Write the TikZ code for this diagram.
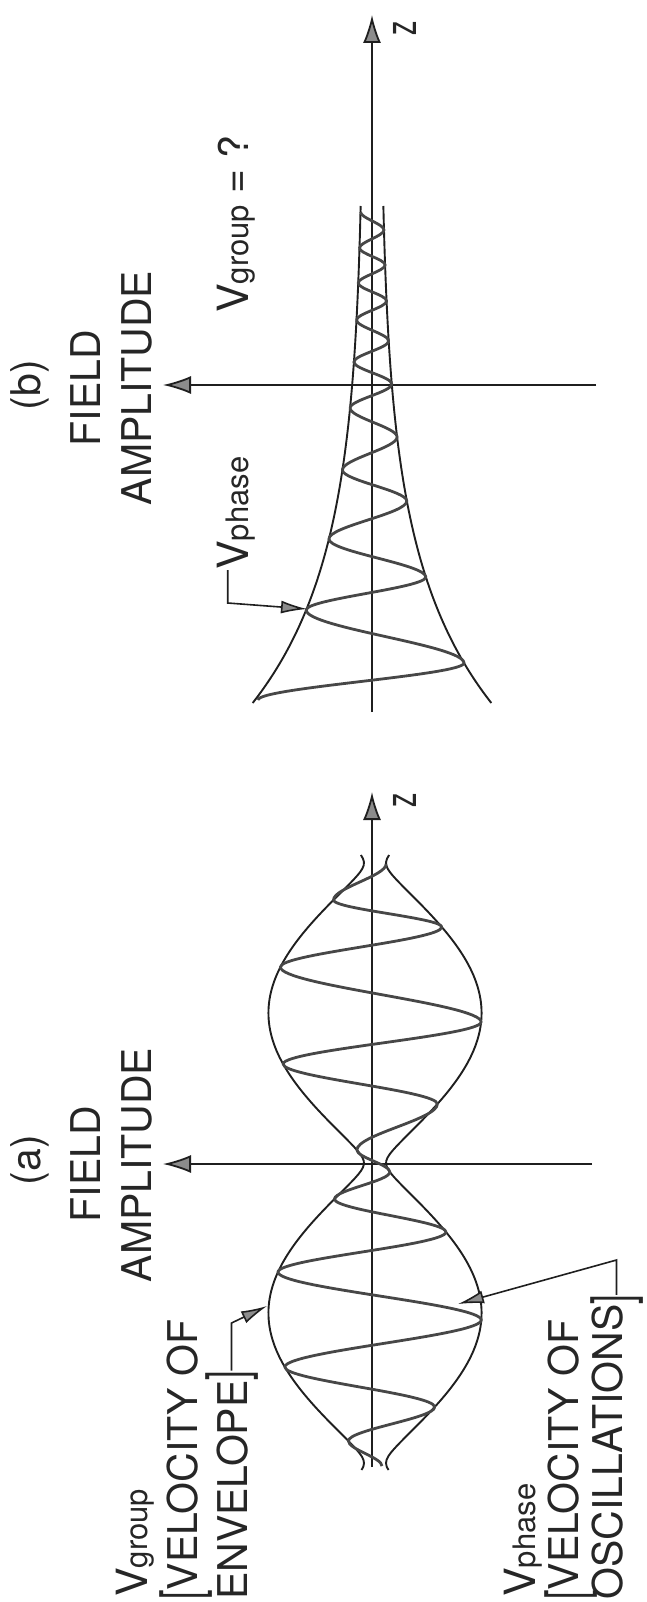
\documentclass[tikz,border=0pt]{standalone}
\usepackage{fontspec}
\setmainfont{TeX Gyre Heros}
\usetikzlibrary{arrows.meta}
\newcommand\myVV{{\fontsize{43}{43}\selectfont V}}
\newcommand\mysubt[1]{{\fontsize{31}{31}\selectfont #1}}
\newcommand\mybrk[2]{\raisebox{#1}{\scalebox{0.62}[1]{\fontsize{56}{56}\selectfont #2}}}
\begin{document}
\begin{tikzpicture}[x=1pt,y=-1pt,
  axis/.style={draw=black!88, line width=1.8pt, -{Latex[length=28pt,width=18pt,fill=black!45]}},
  env/.style={draw=black!88, line width=1.9pt},
  wave/.style={draw=black!72, line width=2.8pt, line join=round},
  leader/.style={draw=black!88, line width=1.6pt, -{Latex[length=26pt,width=13pt,fill=black!45]}},
  txt/.style={rotate=90, inner sep=0pt, text=black!85, font=\fontsize{41}{41}\selectfont},
  lbl/.style={txt, anchor=base west},
  ttl/.style={txt, anchor=base},
]
\useasboundingbox (0,0) rectangle (647,1602);

% ---------------- panel (a) ----------------
\coordinate (ha0) at (592,1164); \coordinate (ha1) at (163,1164);
\coordinate (va0) at (372,1467); \coordinate (va1) at (372,792);
\draw[axis] (ha0) -- (ha1);
\draw[axis] (va0) -- (va1);
\node[txt, anchor=center, font=\fontsize{44}{44}\selectfont] (za) at (405,800) {\scalebox{0.65}[1]{z}};

\draw[env] plot[domain=855:1470, samples=180, variable=\t]
  ({375+sqrt(11236*sin(0.6*(\t-1163))*sin(0.6*(\t-1163))+121)}, \t);
\draw[env] plot[domain=855:1470, samples=180, variable=\t]
  ({375-sqrt(11236*sin(0.6*(\t-1163))*sin(0.6*(\t-1163))+121)}, \t);

\draw[wave] (386.1,864)
 .. controls (386.1,876) and (333.5,888) .. (333.5,900)
 .. controls (333.5,909) and (441.8,918) .. (441.8,927)
 .. controls (441.8,940.3) and (280.4,953.7) .. (280.4,967)
 .. controls (280.4,985.3) and (481.1,1003.7) .. (481.1,1022)
 .. controls (481.1,1036) and (283.1,1050) .. (283.1,1064)
 .. controls (283.1,1077.3) and (437.4,1090.7) .. (437.4,1104)
 .. controls (437.4,1119.3) and (356.9,1134.7) .. (356.9,1150)
 .. controls (356.9,1157.3) and (389.9,1164.7) .. (389.9,1172)
 .. controls (389.9,1181) and (334.5,1190) .. (334.5,1199)
 .. controls (334.5,1210) and (446,1221) .. (446,1232)
 .. controls (446,1245.3) and (278,1258.7) .. (278,1272)
 .. controls (278,1288) and (481.3,1304) .. (481.3,1320)
 .. controls (481.3,1335.7) and (284.8,1351.3) .. (284.8,1367)
 .. controls (284.8,1380.3) and (434.7,1393.7) .. (434.7,1407)
 .. controls (434.7,1418.3) and (348.4,1429.7) .. (348.4,1441)
 .. controls (348.4,1449.3) and (382,1457.7) .. (382,1466);

\node[txt, anchor=center] (la) at (30,1160) {(a)};
\node[ttl] (fa) at (100,1164) {FIELD};
\node[ttl] (aa) at (151,1165) {AMPLITUDE};

\node[lbl] (vga) at (147,1597) {\myVV\mysubt{group}};
\node[lbl] (vela) at (197,1600) {\mybrk{-3pt}{[}VELOCITY OF};
\node[lbl] (enva) at (247,1600) {ENVELOPE\mybrk{1pt}{]}};

\node[lbl] (vpa) at (535,1597) {\myVV\mysubt{phase}};
\node[lbl] (velo) at (578,1600) {\mybrk{-7pt}{[}VELOCITY OF};
\node[lbl] (osc) at (622,1600) {OSCILLATIONS\mybrk{-9pt}{]}};

\coordinate (cG) at (230,1323); \coordinate (tipG) at (267,1306);
\draw[leader] (enva.east) -- (enva.east |- cG) -- (tipG);
\coordinate (cP) at (613,1260); \coordinate (tipP) at (458,1304);
\draw[leader] (osc.east) -- (osc.east |- cP) -- (tipP);

% ---------------- panel (b) ----------------
\coordinate (hb0) at (596,385); \coordinate (hb1) at (163,385);
\coordinate (vb0) at (372,712); \coordinate (vb1) at (372,15);
\draw[axis] (hb0) -- (hb1);
\draw[axis] (vb0) -- (vb1);
\node[txt, anchor=center, font=\fontsize{44}{44}\selectfont] (zb) at (405,28) {\scalebox{0.65}[1]{z}};

\draw[env] plot[domain=206:703, samples=140, variable=\t]
  ({372+8+109*exp((\t-700)/142)}, \t);
\draw[env] plot[domain=206:703, samples=140, variable=\t]
  ({372-8-109*exp((\t-700)/142)}, \t);

\draw[wave] (360.5,212)
 .. controls (360.5,218) and (384,224) .. (384,230)
 .. controls (384,236) and (359.5,242) .. (359.5,248)
 .. controls (359.5,253.7) and (385.1,259.3) .. (385.1,265)
 .. controls (385.1,271) and (358.2,277) .. (358.2,283)
 .. controls (358.2,289) and (386.6,295) .. (386.6,301)
 .. controls (386.6,307.3) and (356.5,313.7) .. (356.5,320)
 .. controls (356.5,327) and (388.7,334) .. (388.7,341)
 .. controls (388.7,348) and (353.9,355) .. (353.9,362)
 .. controls (353.9,369.3) and (391.8,376.7) .. (391.8,384)
 .. controls (391.8,392) and (350.1,400) .. (350.1,408)
 .. controls (350.1,417.7) and (397.1,427.3) .. (397.1,437)
 .. controls (397.1,448) and (342.4,459) .. (342.4,470)
 .. controls (342.4,480.3) and (406.8,490.7) .. (406.8,501)
 .. controls (406.8,513.7) and (328.9,526.3) .. (328.9,539)
 .. controls (328.9,551.7) and (425.8,564.3) .. (425.8,577)
 .. controls (425.8,588) and (306.2,599) .. (306.2,610)
 .. controls (306.2,627.7) and (464,645.3) .. (464,663)
 .. controls (464,675.3) and (258,687.7) .. (258,700);

\node[txt, anchor=center] (lb) at (30,385) {(b)};
\node[ttl] (fb) at (100,388) {FIELD};
\node[ttl] (ab) at (151,388) {AMPLITUDE};

\node[lbl] (vgb) at (248,313) {\myVV\mysubt{group} = ?};
\node[lbl] (vpb) at (248,570) {\myVV\mysubt{phase}};

\coordinate (cB) at (228,603); \coordinate (tipB) at (307,609);
\draw[leader] ([xshift=-8pt]vpb.west) -- ([xshift=-8pt]vpb.west |- cB) -- (tipB);
\end{tikzpicture}
\end{document}
